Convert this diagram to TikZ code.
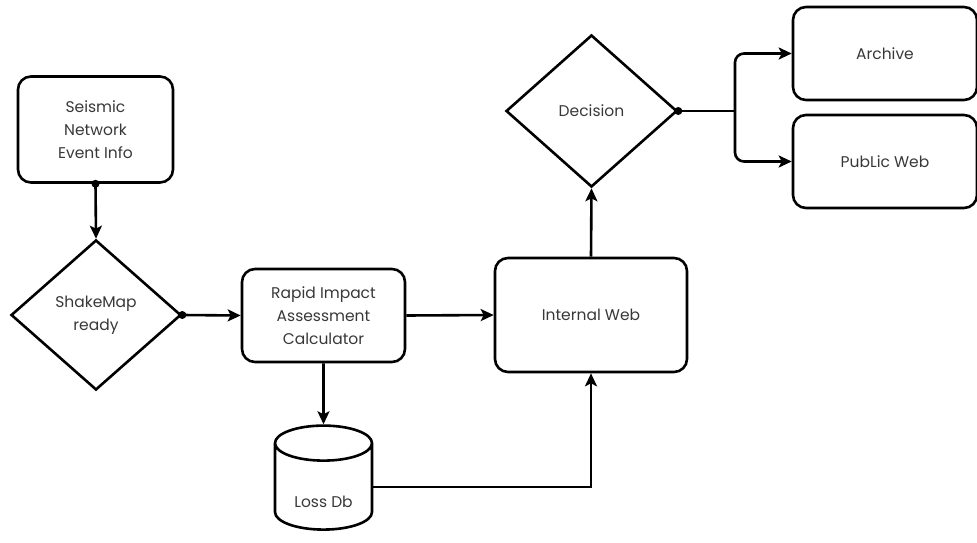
\documentclass[tikz,border=0pt]{standalone}
\usepackage{fontspec}
\setmainfont{Poppins}
\usetikzlibrary{shapes.geometric,arrows.meta}
\begin{document}
\begin{tikzpicture}[x=1pt,y=-1pt,
  every node/.style={font=\fontsize{15.5}{23}\selectfont, text=black!78, align=center},
  box/.style={draw, line width=2.6pt, rounded corners=13pt, inner sep=0pt},
  dia/.style={draw, diamond, line width=2.6pt, inner sep=0pt},
  conn/.style={line width=2.6pt, -{Stealth[length=13pt,width=12pt,inset=3pt]}},
  dotc/.style={fill=black, circle, inner sep=0pt, minimum size=8pt}
]
\useasboundingbox (0,0) rectangle (977,543);
\node[box, minimum width=155pt, minimum height=106pt] (seis) at (95.5,129.5) {Seismic\\Network\\Event Info};
\node[dia, minimum width=170pt, minimum height=150pt] (shake) at (96,315) {ShakeMap\\ready};
\node[box, minimum width=163pt, minimum height=93pt] (ria) at (323.5,315.5) {Rapid Impact\\Assessment\\Calculator};
\node[draw, cylinder, shape border rotate=90, aspect=0.6, line width=2.6pt, minimum width=97pt, minimum height=104pt, inner sep=0pt] (loss) at (323.5,487) {\raisebox{-20pt}[0pt][0pt]{Loss Db}};
\node[box, minimum width=192pt, minimum height=114pt] (iw) at (591,315) {Internal Web};
\node[dia, minimum width=171pt, minimum height=152pt] (dec) at (591.5,111) {Decision};
\node[box, minimum width=184pt, minimum height=93pt] (arch) at (885,53.5) {Archive};
\node[box, minimum width=184pt, minimum height=93pt] (pub) at (885,161.5) {PubLic Web};
\coordinate (split) at (735,111);
\draw[conn] (seis.south) -- (shake.north);
\node[dotc] at (seis.south) {};
\draw[conn] (shake.east) -- (ria.west);
\node[dotc] at (shake.east) {};
\draw[conn] (ria.south) -- (loss.north);
\draw[conn] (ria.east) -- (iw.west);
\draw[conn] (loss.east) -| (iw.south);
\draw[conn] (iw.north) -- (dec.south);
\draw[line width=2.6pt] (dec.east) -- (split);
\draw[conn, rounded corners=9pt] (split) |- (arch.west);
\draw[conn, rounded corners=9pt] (split) |- (pub.west);
\node[dotc] at (dec.east) {};
\end{tikzpicture}
\end{document}
